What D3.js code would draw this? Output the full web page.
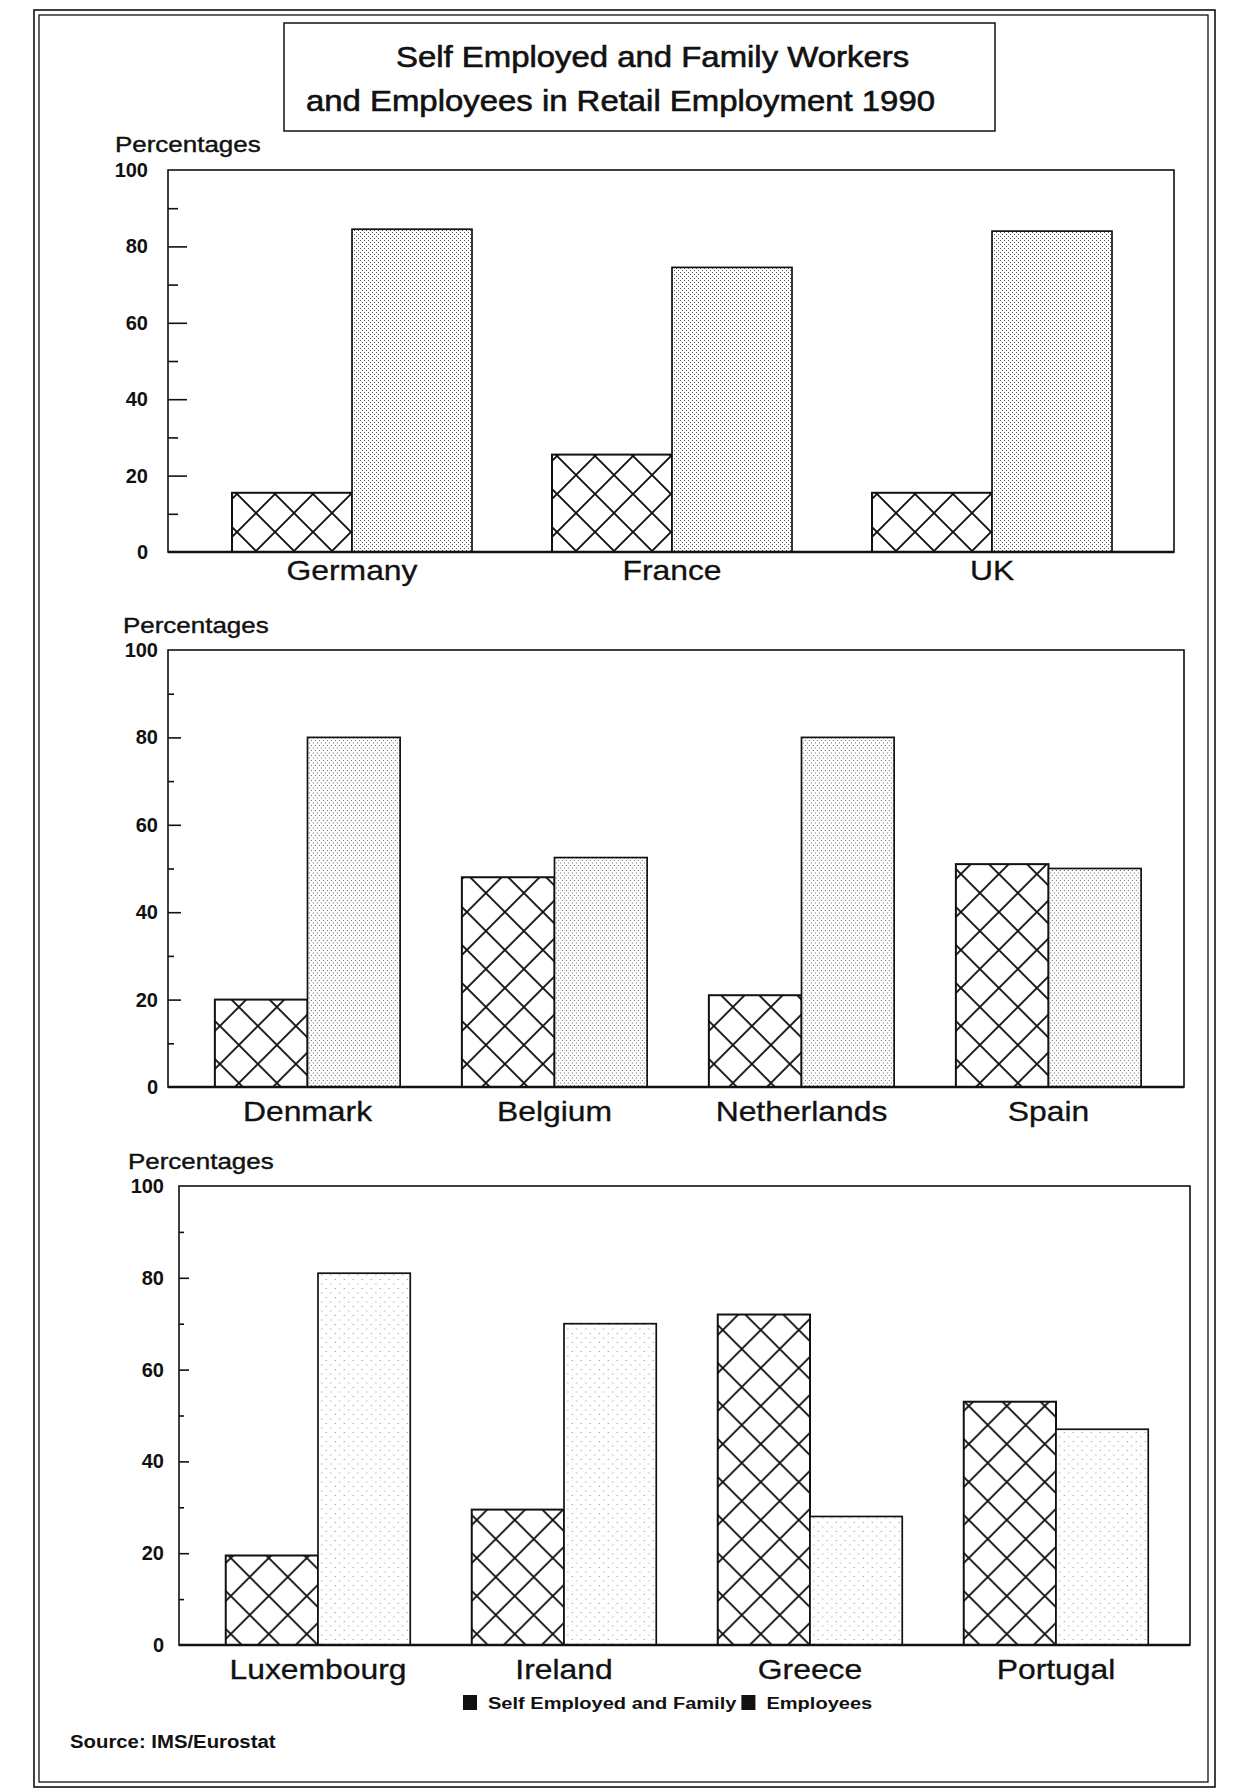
<!DOCTYPE html>
<html>
<head>
<meta charset="utf-8">
<script src="https://cdn.jsdelivr.net/npm/d3@7"></script>
<style>
  html, body { margin: 0; padding: 0; background: #fff; }
  svg { display: block; font-family: "Liberation Sans", Arial, Helvetica, sans-serif; }
</style>
</head>
<body>
<svg id="chart" width="1235" height="1791"></svg>
<script>
// ---- Data: retail employment shares (%), 1990 ----
const seriesNames = ["Self Employed and Family", "Employees"];

const countries1 = ["Germany", "France", "UK"];
const selfEmployed1 = [15.5, 25.5, 15.5];
const employees1 = [84.5, 74.5, 84];

const countries2 = ["Denmark", "Belgium", "Netherlands", "Spain"];
const selfEmployed2 = [20, 48, 21, 51];
const employees2 = [80, 52.5, 80, 50];

const countries3 = ["Luxembourg", "Ireland", "Greece", "Portugal"];
const selfEmployed3 = [19.5, 29.5, 72, 53];
const employees3 = [81, 70, 28, 47];

const yMajorTicks = [0, 20, 40, 60, 80, 100];
const yMinorTicks = [10, 30, 50, 70, 90];

const titleLines = ["Self Employed and Family Workers", "and Employees in Retail Employment 1990"];
const yAxisTitle = "Percentages";
const sourceNote = "Source: IMS/Eurostat";

// ---- Layout ----
const svg = d3.select("#chart");
const INK = "#111";
const STRETCH = 1.18; // the typeface is set wide

// helper: horizontally stretched text with a slight ink spread
function wideText(parent, x, y, str, size, opts = {}) {
  return parent.append("text")
    .attr("transform", `translate(${x},${y}) scale(${opts.sx || STRETCH},1)`)
    .attr("text-anchor", opts.anchor || "start")
    .attr("font-size", size)
    .attr("font-weight", opts.weight || "normal")
    .attr("fill", INK)
    .attr("stroke", INK)
    .attr("stroke-width", opts.ink == null ? 0.4 : opts.ink)
    .text(str);
}

const defs = svg.append("defs");

// cross-hatch fill
const cross = defs.append("pattern")
  .attr("id", "cross").attr("patternUnits", "userSpaceOnUse")
  .attr("width", 38).attr("height", 38).attr("x", 5).attr("y", 0);
cross.append("rect").attr("width", 38).attr("height", 38).attr("fill", "#fff");
cross.append("path")
  .attr("d", "M-6,-6L44,44M44,-6L-6,44")
  .attr("stroke", INK).attr("stroke-width", 1.9).attr("fill", "none");

// stipple fills of differing density
function stipple(id, w, h, dots, color) {
  const p = defs.append("pattern").attr("id", id)
    .attr("patternUnits", "userSpaceOnUse").attr("width", w).attr("height", h);
  p.append("rect").attr("width", w).attr("height", h).attr("fill", "#fff");
  dots.forEach(([dx, dy]) => p.append("rect")
    .attr("x", dx).attr("y", dy).attr("width", 1).attr("height", 1).attr("fill", color));
}
stipple("dotsDense", 4, 4, [[0, 0], [2, 2]], "#555");
stipple("dotsMedium", 4, 5, [[0, 0], [2, 2.5]], "#6a6a6a");
stipple("dotsSparse", 9, 9, [[1, 1], [5.5, 5.5]], "#888");

// outer double frame
svg.append("rect").attr("x", 34).attr("y", 10).attr("width", 1181).attr("height", 1777)
  .attr("fill", "none").attr("stroke", INK).attr("stroke-width", 1.6);
svg.append("rect").attr("x", 39).attr("y", 15).attr("width", 1169).attr("height", 1767)
  .attr("fill", "none").attr("stroke", INK).attr("stroke-width", 1.3);

// title box
svg.append("rect").attr("x", 284).attr("y", 23).attr("width", 711).attr("height", 108)
  .attr("fill", "#fff").attr("stroke", INK).attr("stroke-width", 1.5);
wideText(svg, 396, 67, titleLines[0], 29, { sx: 1.135, ink: 0.6 });
wideText(svg, 306, 111, titleLines[1], 29, { sx: 1.135, ink: 0.6 });

const panels = [
  { countries: countries1, self: selfEmployed1, emp: employees1,
    box: { left: 168, right: 1174, top: 170, bottom: 552 }, band: [192, 1152],
    major: 19, minor: 10, pad: 20, yTitle: [115, 152], labelDy: 28, dots: "dotsDense" },
  { countries: countries2, self: selfEmployed2, emp: employees2,
    box: { left: 168, right: 1184, top: 650, bottom: 1087 }, band: [184, 1172],
    major: 13, minor: 6, pad: 10, yTitle: [123, 633], labelDy: 34, dots: "dotsMedium" },
  { countries: countries3, self: selfEmployed3, emp: employees3,
    box: { left: 179, right: 1190, top: 1186, bottom: 1645 }, band: [195, 1179],
    major: 10, minor: 5, pad: 15, yTitle: [128, 1169], labelDy: 34, dots: "dotsSparse" }
];

panels.forEach(p => {
  const g = svg.append("g");
  const { left, right, top, bottom } = p.box;

  const y = d3.scaleLinear().domain([0, 100]).range([bottom, top]);
  const x0 = d3.scaleBand().domain(p.countries).range(p.band)
    .paddingInner(0.25).paddingOuter(0.125);
  const x1 = d3.scaleBand().domain(seriesNames).range([0, x0.bandwidth()]);

  // plot frame
  g.append("rect").attr("x", left).attr("y", top)
    .attr("width", right - left).attr("height", bottom - top)
    .attr("fill", "#fff").attr("stroke", INK).attr("stroke-width", 1.6);

  // bars
  const rows = p.countries.map((c, i) => ({ country: c, values: [p.self[i], p.emp[i]] }));
  const groups = g.selectAll("g.grp").data(rows).join("g")
    .attr("class", "grp")
    .attr("transform", d => `translate(${x0(d.country)},0)`);
  groups.selectAll("rect").data(d => d.values.map((v, k) => ({ key: seriesNames[k], v, k })))
    .join("rect")
    .attr("x", d => x1(d.key))
    .attr("y", d => y(d.v))
    .attr("width", x1.bandwidth())
    .attr("height", d => y(0) - y(d.v))
    .attr("fill", d => d.k === 0 ? "url(#cross)" : `url(#${p.dots})`)
    .attr("stroke", INK)
    .attr("stroke-width", d => d.k === 0 ? 2 : 1.7);

  // heavy baseline
  g.append("line").attr("x1", left).attr("x2", right)
    .attr("y1", y(0)).attr("y2", y(0))
    .attr("stroke", INK).attr("stroke-width", 2.6);

  // inward tick marks
  const majorAxis = d3.axisRight(y).tickValues(yMajorTicks.filter(t => t > 0 && t < 100))
    .tickSize(p.major).tickFormat("");
  const minorAxis = d3.axisRight(y).tickValues(yMinorTicks).tickSize(p.minor).tickFormat("");
  [majorAxis, minorAxis].forEach(ax => {
    const a = g.append("g").attr("transform", `translate(${left},0)`).call(ax);
    a.select(".domain").remove();
    a.selectAll("line").attr("stroke", INK).attr("stroke-width", 1.6);
  });

  // tick labels
  const labelAxis = d3.axisLeft(y).tickValues(yMajorTicks).tickSize(0).tickPadding(p.pad);
  const la = g.append("g").attr("transform", `translate(${left},0)`).call(labelAxis);
  la.select(".domain").remove();
  la.selectAll("text")
    .attr("font-family", "'Liberation Sans', Arial, sans-serif")
    .attr("font-size", 20).attr("font-weight", "bold").attr("fill", INK);

  // axis title
  wideText(g, p.yTitle[0], p.yTitle[1], yAxisTitle, 22);

  // country labels
  p.countries.forEach(c => {
    wideText(g, x0(c) + x0.bandwidth() / 2, bottom + p.labelDy, c, 27, { anchor: "middle", ink: 0.3 });
  });
});

// legend
let lx = 463;
const ly = 1709;
seriesNames.forEach(name => {
  svg.append("rect").attr("x", lx).attr("y", ly - 14).attr("width", 14).attr("height", 15)
    .attr("fill", INK);
  const t = wideText(svg, lx + 25, ly, name, 17, { weight: "bold", ink: 0 });
  lx += 25 + t.node().getComputedTextLength() * STRETCH + 5;
});

// source note
wideText(svg, 70, 1748, sourceNote, 18, { weight: "bold", sx: 1.13, ink: 0 });
</script>
</body>
</html>
